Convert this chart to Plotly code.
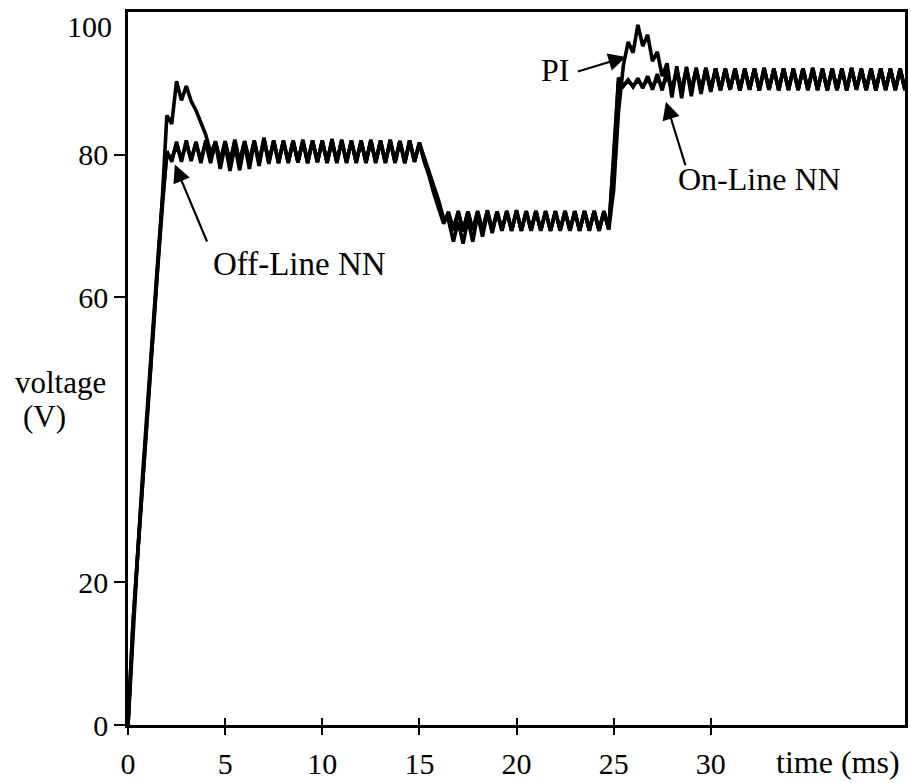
import plotly.graph_objects as go

# sample instants (ms), one every 0.25 ms from 0 to 40 ms
time_ms = [i * 0.25 for i in range(161)]

pi_controller = [
    0, 14, 24, 34, 44, 54, 63, 73,
    85.5, 84.3, 90.3, 87.6, 89.6, 87.5, 86.2, 84.6,
    82.8, 80.3, 81.6, 78.0, 81.4, 77.7, 81.2, 77.8,
    81.5, 78.0, 81.8, 78.4, 82.2, 78.7, 82.0, 78.8,
    81.9, 78.8, 82.0, 78.9, 81.9, 78.8, 82.0, 78.9,
    82.0, 78.8, 81.9, 78.9, 82.1, 78.8, 81.9, 78.9,
    82.0, 78.8, 81.9, 78.9, 81.9, 78.8, 82.1, 78.8,
    81.9, 78.8, 82.0, 79.0, 81.6, 79.6, 77.6, 75.6,
    73.5, 71.0, 70.8, 67.8, 70.6, 67.5, 70.9, 67.8,
    71.6, 68.5, 71.9, 69.0, 72.0, 69.3, 72.1, 69.3,
    72.0, 69.3, 72.1, 69.3, 72.0, 69.4, 72.1, 69.3,
    72.0, 69.3, 72.1, 69.4, 72.0, 69.3, 72.1, 69.3,
    72.1, 69.3, 72.0, 69.5, 75.0, 86.0, 92.5, 95.8,
    94.3, 98.2, 95.2, 96.8, 93.1, 94.4, 91.0, 92.8,
    88.0, 92.4, 87.9, 92.3, 88.2, 92.2, 88.5, 92.1,
    88.8, 92.1, 89.0, 92.0, 89.1, 92.1, 89.0, 92.0,
    89.1, 92.1, 89.0, 92.1, 89.1, 92.0, 89.0, 92.1,
    89.1, 92.0, 89.0, 92.1, 89.1, 92.0, 89.1, 92.1,
    89.0, 92.1, 89.1, 92.0, 89.0, 92.1, 89.1, 92.0,
    89.1, 92.0, 89.0, 92.1, 89.1, 92.0, 89.1, 92.0,
    89.0,
]

off_line_nn = [
    0, 14, 24, 34, 44, 54, 63, 72,
    80.5, 79.0, 81.8, 79.0, 82.0, 79.1, 81.8, 78.8,
    82.0, 78.8, 81.9, 78.9, 81.7, 78.8, 82.1, 78.9,
    81.8, 78.9, 82.0, 78.8, 82.4, 79.0, 81.9, 78.8,
    82.0, 78.9, 81.8, 78.9, 82.1, 78.8, 81.9, 79.0,
    81.8, 78.9, 82.2, 78.8, 81.9, 78.9, 82.0, 78.8,
    81.9, 78.9, 82.1, 78.8, 81.8, 78.9, 82.0, 78.9,
    81.9, 78.8, 82.0, 79.0, 81.6, 79.0, 77.0, 74.5,
    72.4, 70.3, 72.0, 69.3, 72.1, 69.2, 72.0, 69.4,
    72.1, 69.3, 72.2, 69.3, 72.0, 69.4, 72.1, 69.3,
    72.2, 69.3, 72.0, 69.4, 72.1, 69.3, 72.0, 69.3,
    72.1, 69.4, 72.0, 69.3, 72.1, 69.3, 72.0, 69.4,
    72.1, 69.3, 72.0, 69.6, 79.0, 90.8, 89.6, 90.5,
    89.5, 90.7, 89.3, 91.0, 89.1, 91.3, 89.0, 91.8,
    88.9, 92.0, 89.0, 92.1, 89.1, 92.0, 89.0, 92.2,
    89.1, 92.0, 89.0, 92.1, 89.2, 91.9, 89.0, 92.1,
    89.1, 92.0, 89.0, 92.2, 89.1, 92.0, 89.0, 92.1,
    89.2, 92.0, 89.1, 92.1, 89.0, 92.2, 89.1, 91.9,
    89.0, 92.1, 89.1, 92.0, 89.0, 92.2, 89.1, 92.0,
    89.0, 92.1, 89.2, 92.0, 89.0, 92.1, 89.1, 92.0,
    89.1,
]

on_line_nn = [
    0, 13, 24, 35, 45, 55, 64, 73,
    80.0, 79.5, 81.2, 79.4, 81.5, 79.3, 81.6, 79.2,
    81.7, 79.1, 81.8, 79.1, 81.9, 79.0, 81.8, 79.0,
    81.9, 79.1, 81.8, 79.0, 82.0, 79.1, 81.9, 79.0,
    81.8, 79.1, 81.9, 79.0, 81.8, 79.1, 82.0, 79.0,
    81.9, 79.0, 81.8, 79.1, 82.0, 79.0, 81.9, 79.1,
    81.8, 79.0, 81.9, 79.1, 82.0, 79.0, 81.8, 79.1,
    81.9, 79.0, 81.8, 79.1, 81.7, 79.2, 77.3, 74.8,
    72.6, 70.6, 71.6, 69.8, 71.8, 69.5, 72.0, 69.4,
    72.0, 69.4, 72.1, 69.4, 72.0, 69.5, 72.0, 69.4,
    72.1, 69.4, 72.0, 69.5, 72.1, 69.4, 72.0, 69.4,
    72.0, 69.5, 72.1, 69.4, 72.0, 69.4, 72.1, 69.5,
    72.0, 69.4, 72.1, 69.5, 80.0, 90.3, 89.7, 90.3,
    89.6, 90.4, 89.6, 90.5, 89.6, 90.6, 89.5, 90.9,
    89.3, 91.4, 89.2, 91.8, 89.1, 92.0, 89.1, 91.9,
    89.0, 92.1, 89.1, 92.0, 89.1, 92.1, 89.0, 92.0,
    89.2, 92.1, 89.0, 92.0, 89.1, 92.1, 89.1, 92.0,
    89.0, 92.1, 89.2, 92.0, 89.1, 92.1, 89.0, 92.0,
    89.1, 92.0, 89.0, 92.1, 89.1, 92.0, 89.2, 92.1,
    89.1, 92.0, 89.0, 92.1, 89.1, 92.0, 89.0, 92.1,
    89.2,
]

x_ticks = [0, 5, 10, 15, 20, 25, 30]
x_tick_labels = ["0", "5", "10", "15", "20", "25", "30"]
y_ticks = [0, 20, 60, 80]
y_tick_labels = ["0", "20", "60", "80"]

FONT = "Liberation Serif, Times New Roman, serif"

fig = go.Figure()
for name, vals in [("PI", pi_controller), ("Off-Line NN", off_line_nn), ("On-Line NN", on_line_nn)]:
    fig.add_trace(go.Scatter(x=time_ms, y=vals, mode="lines", name=name,
                             line=dict(color="black", width=3.6)))
# empty trace for the inner half of the crossing x ticks
fig.add_trace(go.Scatter(x=[], y=[], xaxis="x2", showlegend=False, hoverinfo="skip"))

axis_font = dict(family=FONT, size=30, color="black")
label_font = dict(family=FONT, size=31, color="black")
big_font = dict(family=FONT, size=33, color="black")

fig.update_layout(
    width=911, height=783,
    margin=dict(l=128, r=3, t=12, b=46),
    paper_bgcolor="white", plot_bgcolor="white",
    showlegend=False,
    xaxis=dict(range=[0, 40], tickvals=x_ticks, ticktext=x_tick_labels,
               ticks="outside", ticklen=7, tickwidth=2, tickcolor="black",
               showline=True, linewidth=3, linecolor="black", mirror=True,
               showgrid=False, zeroline=False, tickfont=axis_font,
               ticklabelstandoff=3),
    xaxis2=dict(range=[0, 40], overlaying="x", anchor="y", side="bottom",
                tickvals=x_ticks[1:], ticks="inside", ticklen=7, tickwidth=2,
                tickcolor="black", showticklabels=False, showline=False,
                showgrid=False, zeroline=False),
    yaxis=dict(range=[0, 100], tickvals=y_ticks, ticktext=y_tick_labels,
               ticks="outside", ticklen=11, tickwidth=2, tickcolor="black",
               showline=True, linewidth=2.5, linecolor="black", mirror=True,
               showgrid=False, zeroline=False, tickfont=axis_font),
)

txt = dict(family=FONT, size=32, color="black")
ann = [
    dict(x=0, y=100, xref="paper", yref="y", text="100", showarrow=False,
         xanchor="right", yanchor="top", xshift=-14, yshift=4, font=axis_font),
    dict(x=-0.087, y=48.0, xref="paper", yref="y", text="voltage", showarrow=False,
         xanchor="center", yanchor="middle", font=label_font),
    dict(x=-0.108, y=43.2, xref="paper", yref="y", text="(V)", showarrow=False,
         xanchor="center", yanchor="middle", font=label_font),
    dict(x=36.55, y=-0.052, xref="x", yref="paper", text="time (ms)", showarrow=False,
         xanchor="center", yanchor="middle", font=dict(family=FONT, size=32, color="black")),
    dict(x=8.85, y=64.6, xref="x", yref="y", text="Off-Line NN", showarrow=False,
         xanchor="center", yanchor="middle", font=big_font),
    dict(x=22.0, y=91.8, xref="x", yref="y", text="PI", showarrow=False,
         xanchor="center", yanchor="middle", font=txt),
    dict(x=32.5, y=76.6, xref="x", yref="y", text="On-Line NN", showarrow=False,
         xanchor="center", yanchor="middle", font=txt),
    # arrows
    dict(x=2.41, y=78.6, ax=4.10, ay=67.6, xref="x", yref="y", axref="x", ayref="y",
         text="", showarrow=True, arrowhead=2, arrowsize=1.6, arrowwidth=2.2, arrowcolor="black"),
    dict(x=25.64, y=93.7, ax=23.08, ay=91.6, xref="x", yref="y", axref="x", ayref="y",
         text="", showarrow=True, arrowhead=2, arrowsize=1.6, arrowwidth=2.2, arrowcolor="black"),
    dict(x=27.69, y=87.4, ax=28.72, ay=78.3, xref="x", yref="y", axref="x", ayref="y",
         text="", showarrow=True, arrowhead=2, arrowsize=1.6, arrowwidth=2.2, arrowcolor="black"),
]
fig.update_layout(annotations=ann)

fig.write_html("out.html")
